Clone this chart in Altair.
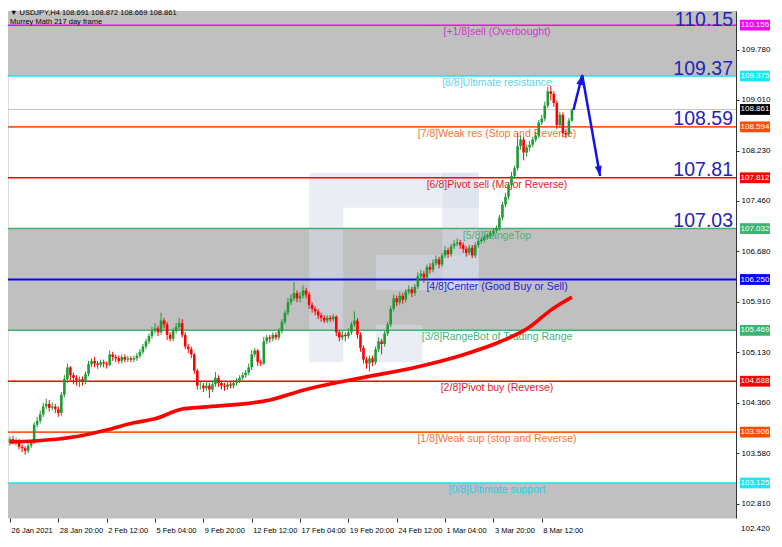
import math
import altair as alt
import pandas as pd

TOP = 3
W, H = 728, 507
PAD = {"left": 0, "top": TOP, "right": 38, "bottom": 20}
PX_PER_UNIT = 65.12
Y_TOP = 109.375 + (76 - 8 - TOP) / PX_PER_UNIT
Y_BOT = Y_TOP - H / PX_PER_UNIT
X_MIN, X_MAX = -0.66, 240.3
FONT = "Liberation Sans"

# ---------------- data ----------------
first_open = 103.74
closes = [103.80,103.76,103.78,103.68,103.66,103.62,103.70,103.74,104.02,104.08,
 104.18,104.30,104.34,104.28,104.30,104.26,104.20,104.48,104.72,104.90,
 104.78,104.74,104.70,104.72,104.68,104.80,104.95,105.00,104.96,104.94,
 104.98,104.96,104.94,105.10,105.06,105.04,105.00,105.06,105.02,105.04,
 105.02,105.04,105.08,105.14,105.22,105.30,105.38,105.46,105.50,105.44,
 105.62,105.56,105.40,105.34,105.46,105.52,105.58,105.40,105.22,105.18,
 105.10,104.85,104.62,104.62,104.58,104.62,104.56,104.64,104.74,104.66,
 104.62,104.60,104.64,104.62,104.66,104.70,104.74,104.78,104.82,104.90,
 105.10,105.16,104.98,104.96,105.30,105.36,105.34,105.40,105.36,105.46,
 105.60,105.74,105.90,105.96,106.04,105.96,106.00,106.08,106.02,105.86,
 105.80,105.76,105.70,105.66,105.62,105.66,105.64,105.68,105.44,105.36,
 105.40,105.38,105.44,105.56,105.62,105.40,105.20,105.02,104.96,105.04,
 104.98,105.18,105.30,105.26,105.42,105.56,105.80,105.96,105.90,106.00,
 105.94,106.06,106.10,106.04,106.14,106.30,106.34,106.28,106.44,106.40,
 106.50,106.56,106.48,106.62,106.70,106.64,106.76,106.80,106.82,106.78,
 106.72,106.66,106.74,106.62,106.78,106.84,106.86,106.90,106.92,106.96,
 107.00,107.04,107.20,107.40,107.52,107.70,107.84,107.96,108.30,108.40,
 108.20,108.28,108.32,108.40,108.46,108.66,108.72,108.92,109.14,109.10,
 108.96,108.62,108.78,108.50,108.48,108.691,108.861]
highs = [103.84,103.85,103.82,103.80,103.72,103.69,103.74,103.78,104.06,104.14,
 104.24,104.36,104.42,104.40,104.36,104.34,104.30,104.52,104.78,104.96,
 104.92,104.82,104.78,104.76,104.76,104.84,105.00,105.04,105.06,105.00,
 105.02,105.02,104.99,105.16,105.14,105.10,105.08,105.10,105.10,105.08,
 105.07,105.08,105.12,105.18,105.26,105.34,105.42,105.52,105.58,105.54,
 105.74,105.66,105.60,105.44,105.50,105.58,105.66,105.64,105.44,105.26,
 105.22,105.12,104.88,104.68,104.66,104.68,104.66,104.70,104.83,104.78,
 104.70,104.66,104.68,104.68,104.70,104.74,104.78,104.82,104.86,104.96,
 105.17,105.20,105.18,105.02,105.37,105.40,105.40,105.44,105.44,105.50,
 105.64,105.78,105.96,106.02,106.21,106.08,106.06,106.16,106.12,106.06,
 105.90,105.84,105.80,105.74,105.70,105.70,105.70,105.72,105.70,105.48,
 105.46,105.44,105.50,105.60,105.76,105.66,105.44,105.24,105.06,105.08,
 105.08,105.22,105.36,105.34,105.46,105.60,105.84,106.02,106.00,106.06,
 106.04,106.10,106.16,106.14,106.18,106.36,106.40,106.38,106.48,106.50,
 106.56,106.62,106.60,106.66,106.76,106.74,106.80,106.86,106.88,106.86,
 106.82,106.76,106.78,106.78,106.82,106.88,106.90,106.94,106.96,107.00,
 107.04,107.08,107.24,107.44,107.58,107.74,107.90,108.00,108.50,108.46,
 108.44,108.32,108.38,108.44,108.52,108.70,108.78,108.98,109.21,109.22,
 109.14,109.00,108.82,108.82,108.56,108.73,108.872]
lows = [103.70,103.72,103.70,103.64,103.60,103.56,103.58,103.66,103.72,103.98,
 104.04,104.14,104.26,104.22,104.24,104.20,104.14,104.16,104.44,104.66,
 104.70,104.64,104.62,104.60,104.62,104.64,104.76,104.90,104.90,104.88,
 104.90,104.90,104.88,104.92,105.00,104.98,104.96,104.96,104.98,104.98,
 104.98,104.98,105.00,105.04,105.10,105.18,105.26,105.34,105.42,105.38,
 105.40,105.50,105.32,105.30,105.30,105.42,105.48,105.36,105.18,105.12,
 105.04,104.80,104.56,104.56,104.52,104.54,104.43,104.52,104.60,104.60,
 104.56,104.54,104.56,104.58,104.58,104.62,104.66,104.70,104.74,104.78,
 104.86,105.06,104.92,104.92,104.94,105.26,105.28,105.30,105.32,105.32,
 105.42,105.56,105.70,105.86,105.92,105.90,105.90,105.96,105.96,105.80,
 105.74,105.70,105.64,105.60,105.58,105.58,105.60,105.60,105.38,105.30,
 105.32,105.30,105.34,105.40,105.52,105.34,105.14,104.96,104.88,104.84,
 104.92,104.94,105.14,105.10,105.22,105.38,105.52,105.76,105.84,105.86,
 105.88,105.90,106.02,105.98,106.00,106.10,106.24,106.20,106.24,106.34,
 106.36,106.46,106.42,106.44,106.58,106.58,106.60,106.72,106.76,106.72,
 106.66,106.60,106.62,106.58,106.58,106.74,106.80,106.82,106.86,106.88,
 106.92,106.96,107.00,107.16,107.36,107.48,107.66,107.80,107.92,108.24,
 108.08,108.14,108.22,108.28,108.36,108.42,108.62,108.68,108.88,109.00,
 108.90,108.56,108.58,108.44,108.42,108.44,108.669]

# Moving average (217) sampled at bar positions
ma_bars = [0, 8, 21, 32, 41, 48, 57, 64, 86, 97, 113, 135, 149, 162, 172, 179, 186]
ma_vals = [103.755, 103.77, 103.83, 103.94, 104.05, 104.11, 104.26, 104.29, 104.40,
           104.55, 104.71, 104.91, 105.08, 105.29, 105.52, 105.78, 105.98]

# Murrey math levels
level_vals = [110.156, 109.375, 108.594, 107.812, 107.032, 106.250, 105.469, 104.688, 103.906, 103.125]
level_names = ["[+1/8]sell (Overbought)", "[8/8]Ultimate resistance", "[7/8]Weak res (Stop and Reverse)",
               "[6/8]Pivot sell (Major Reverse)", "[5/8]RangeTop", "[4/8]Center (Good Buy or Sell)",
               "[3/8]RangeBot of Trading Range", "[2/8]Pivot buy (Reverse)",
               "[1/8]Weak sup (stop and Reverse)", "[0/8]Ultimate support"]
level_colors = ["#ff00ff", "#22dff0", "#ff5a1e", "#ff0000", "#3cb371", "#0000ff",
                "#3cb371", "#ff0000", "#ff5a1e", "#22dff0"]
level_text_colors = ["#d434d4", "#5fd2ea", "#f27436", "#e8202a", "#4fae78", "#2323d2",
                     "#4fae78", "#e8202a", "#f27436", "#2fcbe6"]
level_widths = [1.5, 1.5, 1.6, 1.5, 1.5, 2.0, 1.5, 1.5, 1.6, 1.5]

big_labels = ["110.15", "109.37", "108.59", "107.81", "107.03"]
big_vals = [110.156, 109.375, 108.594, 107.812, 107.032]

current_price = 108.861
box_vals = [110.156, 109.375, 108.861, 108.594, 107.812, 107.032, 106.250, 105.469, 104.688, 103.906, 103.125]
box_colors = ["#ff00ff", "#1ee6f2", "#000000", "#ff4d00", "#ff0000", "#3cb371", "#0000ff",
              "#3cb371", "#ff0000", "#ff4d00", "#1ee6f2"]

y_tick_vals = [109.780, 109.010, 108.230, 107.460, 106.680, 105.910, 105.130, 104.360, 103.580, 102.810]
extra_tick = 102.420

x_tick_bars = [0, 16, 32, 48, 64, 80, 96, 112, 128, 144, 160, 176]
x_tick_labels = ["26 Jan 2021", "28 Jan 20:00", "2 Feb 12:00", "5 Feb 04:00", "9 Feb 20:00",
                 "12 Feb 12:00", "17 Feb 04:00", "19 Feb 20:00", "24 Feb 12:00", "1 Mar 04:00",
                 "3 Mar 20:00", "8 Mar 12:00"]

# forecast arrows (bar, price)
arrow_bars = [186.5, 189.4, 195.3]
arrow_prices = [108.853, 109.39, 107.84]

# watermark logo rectangles (bar/price extents)
logo_x1 = [99.0, 110.3, 143.1, 121.1, 121.1]
logo_x2 = [110.3, 155.2, 155.2, 155.2, 136.5]
logo_y1 = [104.98, 107.35, 106.09, 106.09, 104.98]
logo_y2 = [107.89, 107.89, 107.89, 106.63, 105.55]

title_1 = "\u25bc USDJPY,H4  108.691 108.872 108.669 108.861"
title_2 = "Murrey Math 217 day frame"

# ---------------- tables ----------------
opens = [first_open] + closes[:-1]
candles = pd.DataFrame({
    "i": list(range(len(closes))), "o": opens, "h": highs, "l": lows, "c": closes,
})
candles["col"] = ["#1f9a34" if c >= o else "#ff0000" for o, c in zip(opens, closes)]

ma = pd.DataFrame({"i": ma_bars, "v": ma_vals})
levels = pd.DataFrame({"v": level_vals, "name": level_names, "col": level_colors,
                       "tcol": level_text_colors, "w": level_widths})
bands = pd.DataFrame({"lo": [level_vals[1], level_vals[6], Y_BOT],
                      "hi": [Y_TOP, level_vals[4], level_vals[9]]})
bigs_top = pd.DataFrame({"v": big_vals[:1], "t": big_labels[:1]})
bigs_rest = pd.DataFrame({"v": big_vals[1:], "t": big_labels[1:]})
boxes = pd.DataFrame({"v": box_vals, "col": box_colors, "t": [f"{v:.3f}" for v in box_vals]})
arrows = pd.DataFrame({"i": arrow_bars, "v": arrow_prices, "k": range(len(arrow_bars))})
logo = pd.DataFrame({"x1": logo_x1, "x2": logo_x2, "y1": logo_y1, "y2": logo_y2})

ppb = W / (X_MAX - X_MIN)
ppu = H / (Y_TOP - Y_BOT)
angles = []
for k in range(1, len(arrow_bars)):
    dx = (arrow_bars[k] - arrow_bars[k - 1]) * ppb
    dy = -(arrow_prices[k] - arrow_prices[k - 1]) * ppu
    angles.append(math.degrees(math.atan2(dx, -dy)) % 360)
heads = pd.DataFrame({"i": arrow_bars[1:], "v": arrow_prices[1:], "a": angles})

# ---------------- scales / axes ----------------
xs = alt.Scale(domain=[X_MIN, X_MAX], nice=False, zero=False)
ys = alt.Scale(domain=[Y_BOT, Y_TOP], nice=False, zero=False)
label_expr = "[" + ",".join(f"'{t}'" for t in x_tick_labels) + "][round(datum.value / 16)]"
x_axis = alt.Axis(values=x_tick_bars, labelExpr=label_expr, labelAlign="left", labelBaseline="top",
                  labelFlush=False, labelOverlap=False, labelPadding=4, labelOffset=1,
                  labelFontSize=7.5, labelColor="#000", labelFont=FONT, tickSize=4,
                  tickColor="#333", domain=False, grid=False, title=None, orient="bottom")
y_axis = alt.Axis(orient="right", values=y_tick_vals, format=".3f", labelFontSize=8,
                  labelColor="#000", labelFont=FONT, labelPadding=2, tickSize=3, tickColor="#333",
                  domainColor="#333", grid=False, title=None, labelFlush=False, labelOverlap=False)


def X(f):
    return alt.X(f, type="quantitative", scale=xs, axis=x_axis)


def Y(f):
    return alt.Y(f, type="quantitative", scale=ys, axis=y_axis)


# ---------------- layers ----------------
band_layer = alt.Chart(bands).mark_rect(color="#c0c0c0").encode(
    x=alt.value(0), x2=alt.value(W), y=Y("lo"), y2="hi")

logo_layer = alt.Chart(logo).mark_rect(color="#d6dcea", opacity=0.5).encode(
    x=X("x1"), x2="x2", y=Y("y1"), y2="y2")

level_layer = alt.Chart(levels).mark_rule().encode(
    y=Y("v"), color=alt.Color("col:N", scale=None), strokeWidth=alt.StrokeWidth("w:Q", scale=None))

price_line = alt.Chart(pd.DataFrame({"v": [current_price]})).mark_rule(
    color="#c4c4c4", strokeWidth=1).encode(y=Y("v"))

level_text = alt.Chart(levels).mark_text(font=FONT, fontSize=10.5, baseline="top", dy=2,
                                          align="center").encode(
    x=alt.X(datum=161.2, type="quantitative", scale=xs, axis=x_axis),
    y=Y("v"), text="name:N", color=alt.Color("tcol:N", scale=None))

wicks = alt.Chart(candles).mark_rule(strokeWidth=1).encode(
    x=X("i"), y=Y("l"), y2="h", color=alt.Color("col:N", scale=None))
bodies = alt.Chart(candles).mark_rule(strokeWidth=2.6).encode(
    x=X("i"), y=Y("o"), y2="c", color=alt.Color("col:N", scale=None))

ma_layer = alt.Chart(ma).mark_line(color="#ff0000", strokeWidth=3.6, interpolate="monotone").encode(
    x=X("i"), y=Y("v"))

arrow_line = alt.Chart(arrows).mark_line(color="#1414e6", strokeWidth=2.5).encode(
    x=X("i"), y=Y("v"), order="k:Q")
arrow_heads = alt.Chart(heads).mark_point(shape="M0,0L-0.7,2L0.7,2Z", filled=True, opacity=1,
                                           color="#1414e6", size=100).encode(
    x=X("i"), y=Y("v"), angle=alt.Angle("a:Q", scale=None))

big_top = alt.Chart(bigs_top).mark_text(font=FONT, fontSize=19.5, align="right", baseline="alphabetic",
                                         dy=0.8, color="#2424b4").encode(
    x=alt.value(W - 3), y=Y("v"), text="t:N")
big_rest = alt.Chart(bigs_rest).mark_text(font=FONT, fontSize=19.5, align="right", baseline="alphabetic",
                                           dy=-1.5, color="#2424b4").encode(
    x=alt.value(W - 3), y=Y("v"), text="t:N")

box_layer = alt.Chart(boxes).mark_point(shape="M-1,-0.36L1,-0.36L1,0.36L-1,0.36Z", filled=True,
                                         opacity=1, size=900).encode(
    x=alt.value(W + 19), y=Y("v"), color=alt.Color("col:N", scale=None))
box_text = alt.Chart(boxes).mark_text(font=FONT, fontSize=8, color="white", align="center",
                                       baseline="middle").encode(
    x=alt.value(W + 19), y=Y("v"), text="t:N")
extra_label = alt.Chart(pd.DataFrame({"v": [extra_tick]})).mark_text(
    font=FONT, fontSize=8, color="#000", align="left", baseline="middle").encode(
    x=alt.value(W + 5), y=Y("v"), text=alt.Text("v:Q", format=".3f"))

one = pd.DataFrame({"a": [0]})
t1 = alt.Chart(one).mark_text(text=title_1, font=FONT, fontSize=7.5, align="left",
                              baseline="middle", color="#000").encode(x=alt.value(2), y=alt.value(2))
t2 = alt.Chart(one).mark_text(text=title_2, font=FONT, fontSize=7.5, align="left",
                              baseline="middle", color="#000").encode(x=alt.value(2), y=alt.value(11))

chart = alt.layer(
    band_layer, logo_layer, level_layer, price_line, level_text, wicks, bodies, ma_layer,
    arrow_line, arrow_heads, big_top, big_rest, box_layer, box_text, extra_label, t1, t2
).properties(
    width=W, height=H, padding=PAD, autosize=alt.AutoSizeParams(type="none")
).configure_view(
    stroke="#333", strokeWidth=1
).configure(font=FONT)

chart.save("out.html", embed_options={"renderer": "svg", "actions": False})
